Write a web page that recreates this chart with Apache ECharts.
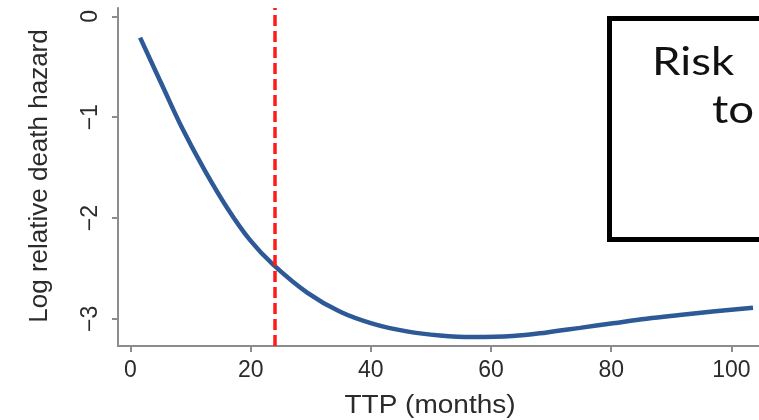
<!DOCTYPE html>
<html>
<head>
<meta charset="utf-8">
<script src="https://cdn.jsdelivr.net/npm/echarts@6/dist/echarts.min.js"></script>
<style>
  html, body { margin: 0; padding: 0; background: #fff; }
  #chart { width: 759px; height: 420px; }
</style>
</head>
<body>
<div id="chart"></div>
<script>
// Spline fit: log relative death hazard against time to progression (months)
const ttpMonths = [1.6, 5.4, 8.7, 12.1, 16.1, 19.9, 23.7, 29.4, 34.9, 40.4, 46.0, 51.5, 57.0, 63.6, 69.3, 74.8, 80.3, 85.9, 91.4, 96.9, 103.6];
const logHazard = [-0.21, -0.70, -1.12, -1.50, -1.90, -2.22, -2.46, -2.74, -2.93, -3.05, -3.125, -3.165, -3.18, -3.17, -3.135, -3.09, -3.045, -3.00, -2.963, -2.928, -2.89];
const xTicks = [0, 20, 40, 60, 80, 100];
const yTicks = [0, -1, -2, -3];
const cutoffMonths = 24;

const axisGray = '#8c8c8c';
const textGray = '#2b2b2b';
const labelFont = 'Liberation Sans, Arial, sans-serif';

// Negative tick values use a true minus sign
const fmtTick = v => String(v).replace('-', '\u2212');

const chart = echarts.init(document.getElementById('chart'), null, { renderer: 'canvas' });

chart.setOption({
  animation: false,
  backgroundColor: '#ffffff',
  grid: { left: 118, top: 8, width: 641, height: 338, outerBoundsMode: 'none' },
  xAxis: {
    type: 'value',
    min: -2.08,
    max: 104.6,
    axisLine: { show: true, onZero: false, lineStyle: { color: axisGray, width: 2 } },
    axisTick: { show: true, customValues: xTicks, length: 6, lineStyle: { color: axisGray, width: 2 } },
    axisLabel: { customValues: xTicks, formatter: fmtTick, fontSize: 23, color: textGray, fontFamily: labelFont, margin: 13 },
    splitLine: { show: false }
  },
  yAxis: {
    type: 'value',
    min: -3.27,
    max: 0.084,
    axisLine: { show: true, onZero: false, lineStyle: { color: axisGray, width: 2 } },
    axisTick: { show: true, customValues: yTicks, length: 6, lineStyle: { color: axisGray, width: 2 } },
    axisLabel: { customValues: yTicks, formatter: fmtTick, rotate: 90, fontSize: 23, color: textGray, fontFamily: labelFont, margin: 16 },
    splitLine: { show: false }
  },
  series: [{
    type: 'line',
    data: ttpMonths.map((m, i) => [m, logHazard[i]]),
    smooth: 0.4,
    showSymbol: false,
    lineStyle: { color: '#2d5a96', width: 4.5 },
    markLine: {
      silent: true,
      symbol: ['none', 'none'],
      label: { show: false },
      lineStyle: { color: '#ff1a1a', width: 3.5, type: [11, 5] },
      data: [{ xAxis: cutoffMonths }]
    }
  }],
  graphic: [
    {
      type: 'text', x: 40, y: 176, rotation: Math.PI / 2, scaleX: 1.04,
      style: { text: 'Log relative death hazard', font: '25px ' + labelFont, fill: textGray, align: 'center', verticalAlign: 'middle' }
    },
    {
      type: 'text', x: 430, y: 406, scaleX: 1.12,
      style: { text: 'TTP (months)', font: '25px ' + labelFont, fill: textGray, align: 'center', verticalAlign: 'middle' }
    },
    {
      type: 'rect',
      shape: { x: 609.5, y: 18.5, width: 200, height: 221 },
      style: { fill: '#ffffff', stroke: '#000000', lineWidth: 5 }
    },
    {
      type: 'text', x: 652, y: 63, scaleX: 1.2,
      style: { text: 'Risk', font: '38px Lato, sans-serif', fill: '#111111', align: 'left', verticalAlign: 'middle' }
    },
    {
      type: 'text', x: 712, y: 111, scaleX: 1.2,
      style: { text: 'to', font: '38px Lato, sans-serif', fill: '#111111', align: 'left', verticalAlign: 'middle' }
    }
  ]
});
</script>
</body>
</html>
